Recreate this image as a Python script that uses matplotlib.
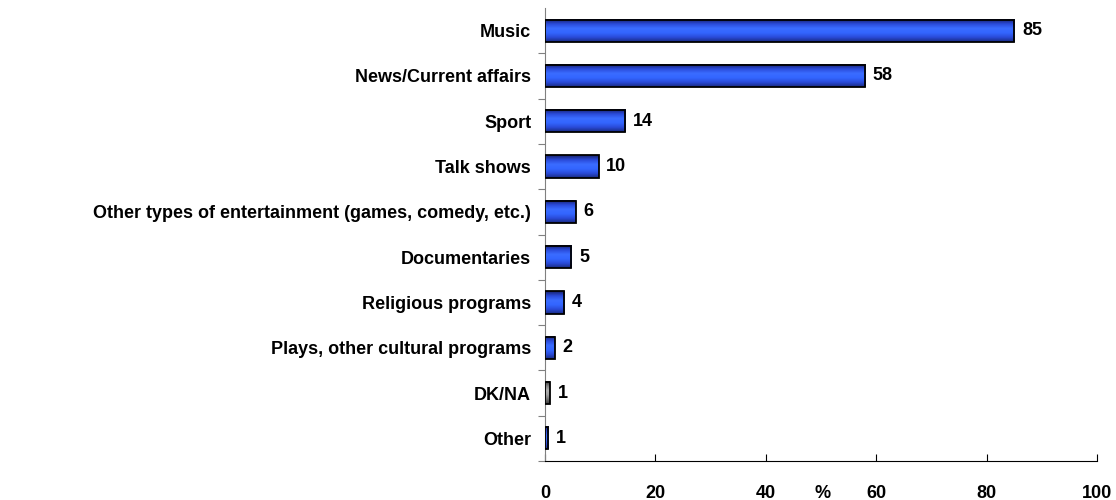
import numpy as np
import matplotlib
matplotlib.use('Agg')
from matplotlib import pyplot as plt
from matplotlib.colors import LinearSegmentedColormap

# ---------------------------------------------------------------- data
categories = ['Music', 'News/Current affairs', 'Sport', 'Talk shows',
              'Other types of entertainment (games, comedy, etc.)',
              'Documentaries', 'Religious programs',
              'Plays, other cultural programs', 'DK/NA', 'Other']
values = [85, 58, 14, 10, 6, 5, 4, 2, 1, 1]
bar_lengths = [85, 58, 14.5, 9.7, 5.6, 4.8, 3.5, 1.8, 0.9, 0.6]
x_ticks = [0, 20, 40, 60, 80, 100]

blue_cmap = LinearSegmentedColormap.from_list(
    'bar_blue', ['#16206a', '#2a4ad8', '#3a6cff', '#3366ff', '#2a4ad8', '#182a80'])
gray_cmap = LinearSegmentedColormap.from_list(
    'bar_gray', ['#303030', '#808080', '#b0b0b0', '#a0a0a0', '#707070', '#383838'])


def gradient_bar(ax, y, length, height, cmap):
    grad = np.linspace(0, 1, 64).reshape(-1, 1)
    ax.imshow(grad, cmap=cmap, aspect='auto', interpolation='bilinear',
              extent=[0, length, y + height / 2, y - height / 2], zorder=2)
    ax.barh(y, length, height=height, facecolor='none', edgecolor='black',
            linewidth=1.3, zorder=3)


def main():
    plt.rcParams['font.family'] = ['Liberation Sans', 'DejaVu Sans']
    fs = 13
    fig = plt.figure(figsize=[11.16, 5.0], dpi=100)
    ax = fig.add_axes([545 / 1116, 1 - 461 / 500, (1097 - 545) / 1116, 453 / 500])

    height = 0.49
    for i, (cat, val, length) in enumerate(zip(categories, values, bar_lengths)):
        cmap = gray_cmap if cat == 'DK/NA' else blue_cmap
        gradient_bar(ax, i, length, height, cmap)
        ax.text(length + 1.4, i, str(val), va='center', ha='left',
                fontsize=fs, fontweight='bold')

    ax.set_xlim(0, 100)
    ax.set_ylim(len(categories) - 0.5, -0.5)
    ax.set_xticks(x_ticks)
    ax.set_xticklabels([str(t) for t in x_ticks], fontsize=fs, fontweight='bold')
    ax.set_yticks(np.arange(len(categories)) + 0.5, minor=False)
    ax.set_yticklabels([])
    ax.set_yticks(np.arange(len(categories)), minor=True)
    ax.set_yticklabels(categories, minor=True, fontsize=fs, fontweight='bold')
    ax.tick_params(axis='y', which='minor', length=0, pad=10)
    ax.tick_params(axis='y', which='major', length=5, direction='out', color='#808080')
    ax.tick_params(axis='x', length=5, direction='in', pad=17, color='black')

    for side in ['top', 'right']:
        ax.spines[side].set_visible(False)
    ax.spines['left'].set_color('#808080')
    ax.spines['bottom'].set_color('black')

    # "%" unit sits on the same line as the x tick labels
    ax.annotate('%', xy=(50.3, 0), xycoords=('data', 'axes fraction'),
                xytext=(0, -17), textcoords='offset points', ha='center',
                va='top', fontsize=fs, fontweight='bold')

    fig.savefig('out.png', dpi=100)


if __name__ == '__main__':
    main()
